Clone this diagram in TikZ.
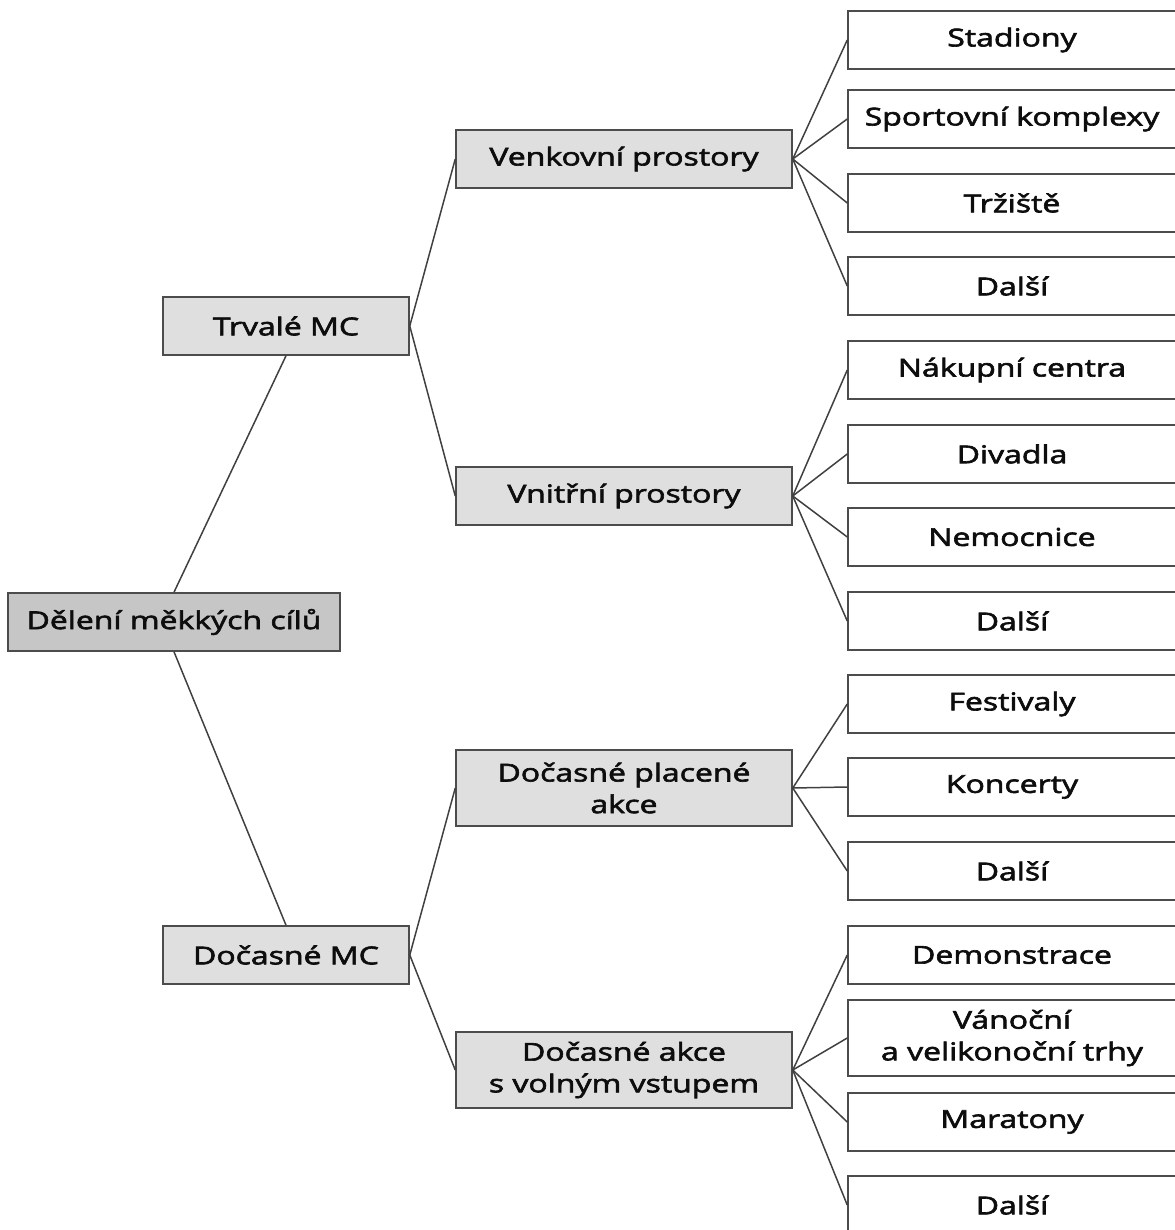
\documentclass[tikz,border=0pt]{standalone}
\usepackage{fontspec}
\setmainfont{Open Sans}[FakeStretch=1.3,FakeBold=2.5]

\begin{document}
\begin{tikzpicture}[x=0.02cm,y=-0.02cm,
    box/.style={draw=black!70,line width=0.9pt,minimum height=1.16cm,
        align=center,inner sep=2pt,text=black!95,
        font=\fontsize{14}{18}\selectfont},
    rootbox/.style={box,fill=gray!45,minimum width=6.64cm},
    groupbox/.style={box,fill=gray!25,minimum width=4.92cm},
    placebox/.style={box,fill=gray!25,minimum width=6.72cm},
    leafbox/.style={box,fill=white,minimum width=6.56cm},
    tallbox/.style={minimum height=1.52cm},
    link/.style={draw=black!75,line width=0.85pt}]

    % Fix the page size
    \useasboundingbox (0,0) rectangle (1175,1230);

    % Root and the two main groups
    \node[rootbox] (root) at (174,622) {Dělení měkkých cílů};
    \node[groupbox] (trvale) at (286,326) {Trvalé MC};
    \node[groupbox] (docasne) at (286,955) {Dočasné MC};
    \draw[link] (root.north) -- (trvale.south);
    \draw[link] (root.south) -- (docasne.north);

    % Second level
    \node[placebox] (venk) at (624,159) {Venkovní prostory};
    \node[placebox] (vnit) at (624,496) {Vnitřní prostory};
    \node[placebox,tallbox] (plac) at (624,788) {Dočasné placené\\akce};
    \node[placebox,tallbox] (voln) at (624,1070) {Dočasné akce\\s volným vstupem};
    \foreach \up/\nm in {trvale/venk, trvale/vnit, docasne/plac, docasne/voln}
        \draw[link] (\up.east) -- (\nm.west);

    % Leaves on the right
    \foreach \nm/\yc/\txt/\up in {
        stad/40/Stadiony/venk,
        sport/119/Sportovní komplexy/venk,
        trz/203/Tržiště/venk,
        dalsiA/286/Další/venk,
        nak/370/Nákupní centra/vnit,
        div/454/Divadla/vnit,
        nem/537/Nemocnice/vnit,
        dalsiB/621/Další/vnit,
        fest/704/Festivaly/plac,
        konc/787/Koncerty/plac,
        dalsiC/871/Další/plac,
        demo/955/Demonstrace/voln,
        trhy/1038/{Vánoční\\a velikonoční trhy}/voln,
        mar/1122/Maratony/voln,
        dalsiD/1205/Další/voln} {
        \ifnum\yc=1038
            \node[leafbox,tallbox] (\nm) at (1012,\yc) {\txt};
        \else
            \node[leafbox] (\nm) at (1012,\yc) {\txt};
        \fi
        \draw[link] (\up.east) -- (\nm.west);
    }
\end{tikzpicture}
\end{document}
